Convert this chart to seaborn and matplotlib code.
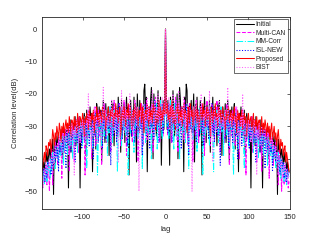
import numpy as np
import pandas as pd
import seaborn as sns
import matplotlib
matplotlib.use("Agg")
import matplotlib.pyplot as plt

# sidelobe levels (dB) for lags 1..149; autocorrelation is symmetric in lag
initial_half = [
    -24, -31, -22, -28, -42, -21, -27, -30, -19, -26,
    -33, -23, -29, -20, -40, -25, -18, -22, -31, -24,
    -27, -44, -21, -26, -17, -19, -34, -25, -23, -29,
    -22, -32, -26, -20, -41, -24, -28, -21, -30, -25,
    -33, -22, -27, -45, -24, -29, -21, -26, -35, -23,
    -28, -31, -22, -38, -25, -27, -21, -33, -24, -29,
    -26, -36, -23, -28, -22, -32, -25, -39, -24, -27,
    -30, -23, -35, -26, -22, -29, -41, -25, -28, -24,
    -31, -26, -23, -37, -27, -25, -30, -44, -26, -28,
    -24, -33, -27, -29, -25, -39, -28, -26, -31, -27,
    -35, -29, -49, -27, -30, -33, -28, -36, -27, -31,
    -29, -34, -30, -38, -28, -32, -49, -30, -33, -31,
    -36, -32, -30, -40, -33, -31, -35, -38, -32, -34,
    -37, -33, -42, -35, -51, -34, -38, -36, -40, -37,
    -39, -42, -38, -41, -40, -44, -41, -43, -44]
multican_half = [
    -27, -23, -33, -25, -29, -22, -35, -26, -24, -31,
    -28, -21, -30, -26, -38, -23, -27, -32, -24, -29,
    -25, -34, -22, -28, -31, -24, -36, -27, -23, -30,
    -26, -29, -41, -24, -27, -33, -22, -28, -25, -35,
    -24, -30, -27, -23, -32, -26, -39, -25, -29, -22,
    -31, -27, -24, -36, -28, -23, -30, -26, -34, -25,
    -29, -22, -33, -27, -25, -38, -24, -30, -28, -26,
    -35, -25, -29, -23, -31, -27, -42, -26, -28, -33,
    -25, -30, -27, -36, -24, -29, -32, -26, -40, -28,
    -27, -31, -25, -34, -29, -27, -45, -28, -32, -30,
    -28, -35, -30, -27, -38, -31, -29, -34, -28, -41,
    -30, -33, -29, -36, -31, -44, -32, -30, -35, -33,
    -31, -38, -34, -32, -46, -35, -33, -37, -34, -42,
    -36, -39, -35, -41, -38, -48, -37, -40, -43, -50,
    -41, -44, -48, -42, -47, -45, -43, -49, -47]
mmcorr_half = [
    -26, -30, -24, -34, -27, -22, -31, -28, -25, -37,
    -23, -29, -26, -33, -24, -28, -40, -25, -30, -27,
    -32, -24, -29, -35, -26, -23, -31, -43, -27, -25,
    -30, -26, -34, -24, -28, -31, -25, -38, -27, -29,
    -24, -32, -26, -30, -45, -27, -25, -33, -28, -31,
    -26, -29, -36, -24, -30, -27, -33, -44, -28, -26,
    -31, -25, -29, -35, -27, -30, -24, -32, -28, -39,
    -26, -30, -27, -33, -25, -29, -36, -28, -31, -27,
    -34, -45, -29, -26, -32, -28, -30, -37, -27, -31,
    -29, -33, -28, -35, -43, -30, -27, -32, -29, -36,
    -30, -28, -34, -31, -29, -38, -32, -30, -35, -33,
    -31, -40, -33, -30, -36, -34, -32, -39, -35, -33,
    -37, -34, -42, -36, -33, -39, -35, -38, -41, -36,
    -40, -37, -43, -39, -41, -38, -44, -40, -46, -42,
    -44, -41, -47, -43, -45, -48, -44, -46, -43]
islnew_half = [
    -25, -28, -32, -23, -30, -26, -29, -35, -24, -27,
    -31, -25, -22, -34, -28, -26, -30, -24, -37, -27,
    -29, -25, -33, -28, -23, -30, -27, -39, -26, -31,
    -24, -28, -32, -26, -30, -23, -35, -27, -29, -25,
    -33, -28, -24, -31, -27, -36, -25, -29, -30, -26,
    -28, -34, -25, -30, -27, -23, -32, -28, -35, -26,
    -30, -27, -33, -25, -29, -42, -28, -26, -31, -27,
    -29, -34, -26, -30, -28, -37, -25, -31, -29, -27,
    -35, -28, -30, -26, -33, -29, -40, -27, -31, -28,
    -30, -36, -29, -27, -32, -30, -28, -34, -31, -29,
    -37, -30, -33, -31, -29, -35, -32, -30, -41, -33,
    -31, -34, -32, -38, -33, -31, -36, -34, -32, -43,
    -35, -33, -37, -34, -39, -36, -38, -35, -44, -37,
    -39, -36, -41, -38, -40, -43, -39, -45, -41, -40,
    -43, -41, -46, -42, -44, -47, -43, -45, -44]
proposed_half = [
    -26, -23, -28, -25, -30, -24, -27, -22, -29, -25,
    -27, -31, -24, -26, -23, -29, -25, -28, -24, -30,
    -26, -23, -28, -25, -27, -32, -24, -26, -29, -23,
    -27, -25, -30, -24, -28, -26, -23, -29, -25, -27,
    -31, -24, -26, -28, -23, -27, -25, -30, -26, -24,
    -28, -25, -27, -33, -24, -26, -29, -25, -27, -23,
    -28, -26, -30, -24, -27, -25, -29, -26, -24, -28,
    -27, -31, -25, -28, -26, -24, -29, -27, -25, -30,
    -26, -28, -24, -29, -27, -32, -25, -28, -26, -30,
    -27, -25, -31, -28, -26, -29, -27, -33, -28, -26,
    -30, -28, -27, -31, -29, -26, -32, -28, -30, -27,
    -31, -29, -28, -33, -30, -27, -32, -29, -31, -28,
    -30, -33, -29, -32, -30, -35, -31, -29, -34, -32,
    -30, -34, -32, -36, -33, -31, -35, -38, -34, -36,
    -35, -39, -37, -36, -41, -38, -40, -42, -44]
bist_half = [
    -23, -29, -26, -21, -31, -27, -24, -33, -20, -28,
    -25, -30, -22, -34, -26, -19, -29, -27, -32, -24,
    -28, -21, -35, -26, -30, -23, -27, -31, -38, -25,
    -29, -50, -27, -24, -30, -26, -22, -33, -28, -25,
    -31, -27, -20, -29, -34, -26, -28, -23, -32, -27,
    -25, -30, -19, -28, -33, -26, -41, -29, -24, -31,
    -27, -32, -25, -29, -22, -35, -28, -26, -30, -27,
    -33, -25, -29, -31, -18, -28, -34, -27, -30, -26,
    -29, -35, -27, -31, -28, -24, -33, -29, -38, -30,
    -27, -32, -20, -30, -28, -36, -31, -29, -34, -28,
    -32, -29, -35, -30, -37, -31, -28, -33, -30, -45,
    -31, -34, -29, -36, -32, -30, -39, -33, -31, -35,
    -33, -37, -32, -35, -40, -34, -36, -33, -38, -35,
    -37, -40, -36, -42, -38, -45, -39, -41, -43, -40,
    -46, -42, -44, -41, -45, -43, -48, -44, -46]

names = ["Initial", "Multi-CAN", "MM-Corr", "ISL-NEW", "Proposed", "BIST"]
halves = [initial_half, multican_half, mmcorr_half, islnew_half, proposed_half, bist_half]
colors = ["black", "magenta", "cyan", "blue", "red", "#ff66ff"]
styles = ["-", "--", "-.", ":", "-", ":"]

n = len(initial_half)
lags = np.arange(-n, n + 1)


def full_curve(half):
    "mirror the positive lags and put the 0 dB mainlobe in the middle"
    return list(half[::-1]) + [0] + list(half)


sns.set_style("white")
plt.rcParams['font.family'] = ['Liberation Sans', 'DejaVu Sans']

fig = plt.figure(figsize=(3.2, 2.4), dpi=100)
ax = fig.add_axes([0.131, 0.129, 0.775, 0.8])

for name, half, c, ls in zip(names, halves, colors, styles):
    df = pd.DataFrame({"lag": lags, "level": full_curve(half)})
    sns.lineplot(data=df, x="lag", y="level", ax=ax, color=c, linestyle=ls,
                 linewidth=0.75, label=name)

ax.set_xlim(-149, 150)
ax.set_ylim(-55.5, 3.7)
ax.set_xticks([-100, -50, 0, 50, 100, 150])
ax.set_yticks([0, -10, -20, -30, -40, -50])
ax.set_xlabel("lag", fontsize=5.5, color="#262626")
ax.set_ylabel("Correlation level(dB)", fontsize=5.5, color="#262626")
ax.tick_params(direction="in", top=True, right=True, labelsize=5.5,
               length=2, width=0.5, colors="#262626")
for sp in ax.spines.values():
    sp.set_color("#262626")
    sp.set_linewidth(0.6)

leg = ax.legend(loc="upper right", fontsize=4.8, frameon=True, fancybox=False,
                edgecolor="#262626", handlelength=2.8, borderpad=0.3,
                labelspacing=0.25, handletextpad=0.2, borderaxespad=0.3)
leg.get_frame().set_linewidth(0.6)

fig.savefig("out.png", dpi=100)
